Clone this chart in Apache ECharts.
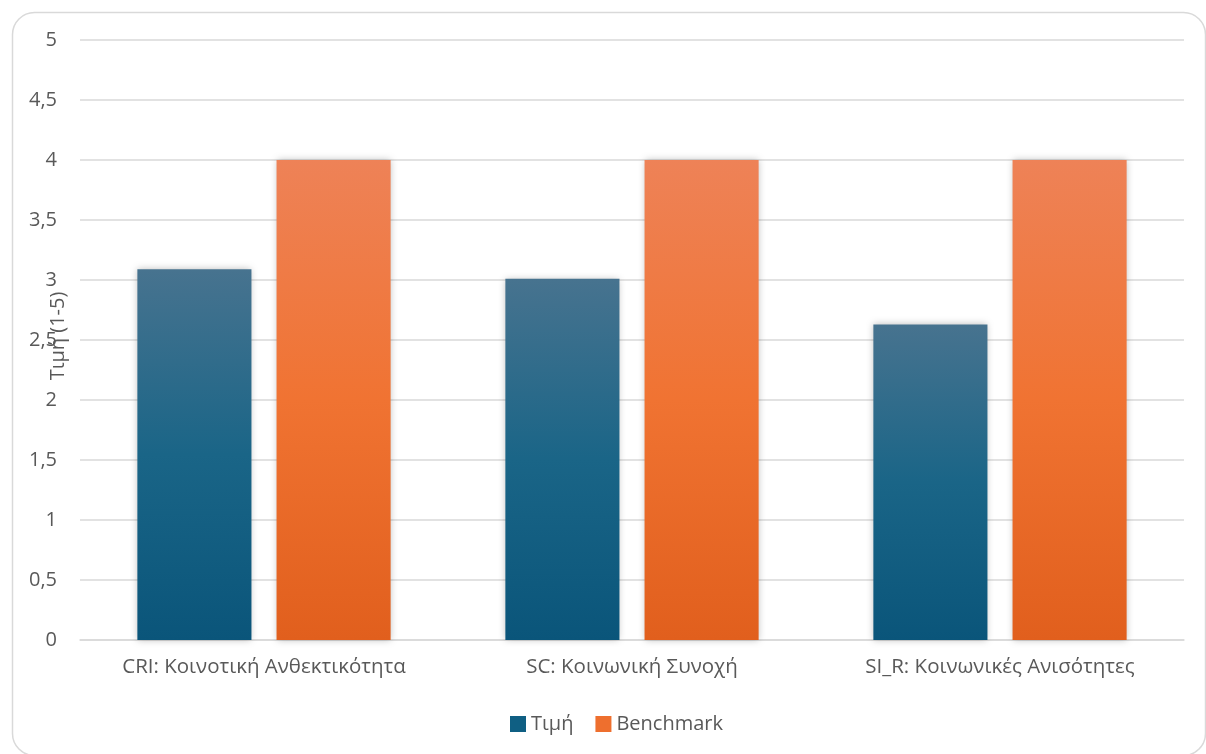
<!DOCTYPE html>
<html><head><meta charset="utf-8">
<script src="https://cdn.jsdelivr.net/npm/echarts@6/dist/echarts.min.js"></script>
<style>html,body{margin:0;padding:0;background:#fff}#c{width:1206px;height:754px}</style>
</head><body><div id="c"></div>
<script>
const categories = ["CRI: Κοινοτική Ανθεκτικότητα", "SC: Κοινωνική Συνοχή", "SI_R: Κοινωνικές Ανισότητες"];
const valueSeries = [3.09, 3.01, 2.63];
const benchmarkSeries = [4, 4, 4];
const seriesNames = ["Τιμή", "Benchmark"];
const yAxisName = "Τιμή (1-5)";

const chart = echarts.init(document.getElementById('c'));
const font = "'Open Sans', 'Noto Sans', sans-serif";
const blueGrad = new echarts.graphic.LinearGradient(0,0,0,1,[{offset:0,color:'#47738f'},{offset:0.5,color:'#1a6587'},{offset:1,color:'#0a557a'}]);
const orangeGrad = new echarts.graphic.LinearGradient(0,0,0,1,[{offset:0,color:'#ee8257'},{offset:0.5,color:'#f07332'},{offset:1,color:'#e15f1d'}]);
chart.setOption({
  animation:false,
  textStyle:{fontFamily:font},
  graphic:[{type:'rect',left:10,top:10,shape:{width:1193,height:743,r:22},style:{fill:'none',stroke:'#d9d9d9',lineWidth:1.5},silent:true,z:-1}],
  grid:{left:80,right:22,top:40,bottom:114},
  legend:{top:709,left:505,icon:'rect',itemWidth:16,itemHeight:16,itemGap:22,
    textStyle:{fontFamily:font,fontSize:20,color:'#595959'},
    data:[{name:seriesNames[0],itemStyle:{color:'#0f5f83'}},{name:seriesNames[1],itemStyle:{color:'#ee6f2e'}}]},
  xAxis:{type:'category',data:categories,axisTick:{show:false},
    axisLine:{lineStyle:{color:'#d9d9d9',width:1.5}},
    axisLabel:{interval:0,hideOverlap:false,fontFamily:font,fontSize:20.5,color:'#595959',margin:17}},
  yAxis:{type:'value',min:0,max:5,interval:0.5,name:yAxisName,nameLocation:'middle',nameGap:12,nameMoveOverlap:false,
    nameTextStyle:{fontFamily:font,fontSize:20,color:'#595959',padding:[0,0,0,8]},
    axisLabel:{fontFamily:font,fontSize:20,color:'#595959',margin:23,formatter:v=>String(v).replace('.',',')},
    splitLine:{lineStyle:{color:'#d9d9d9',width:1.5}},axisLine:{show:false}},
  series:[
    {name:seriesNames[0],type:'bar',data:valueSeries,barWidth:'31%',barGap:'22%',
     itemStyle:{color:blueGrad,shadowBlur:7,shadowColor:'rgba(0,0,0,0.25)'}},
    {name:seriesNames[1],type:'bar',data:benchmarkSeries,barWidth:'31%',
     itemStyle:{color:orangeGrad,shadowBlur:7,shadowColor:'rgba(0,0,0,0.25)'}}
  ]
});
</script></body></html>
